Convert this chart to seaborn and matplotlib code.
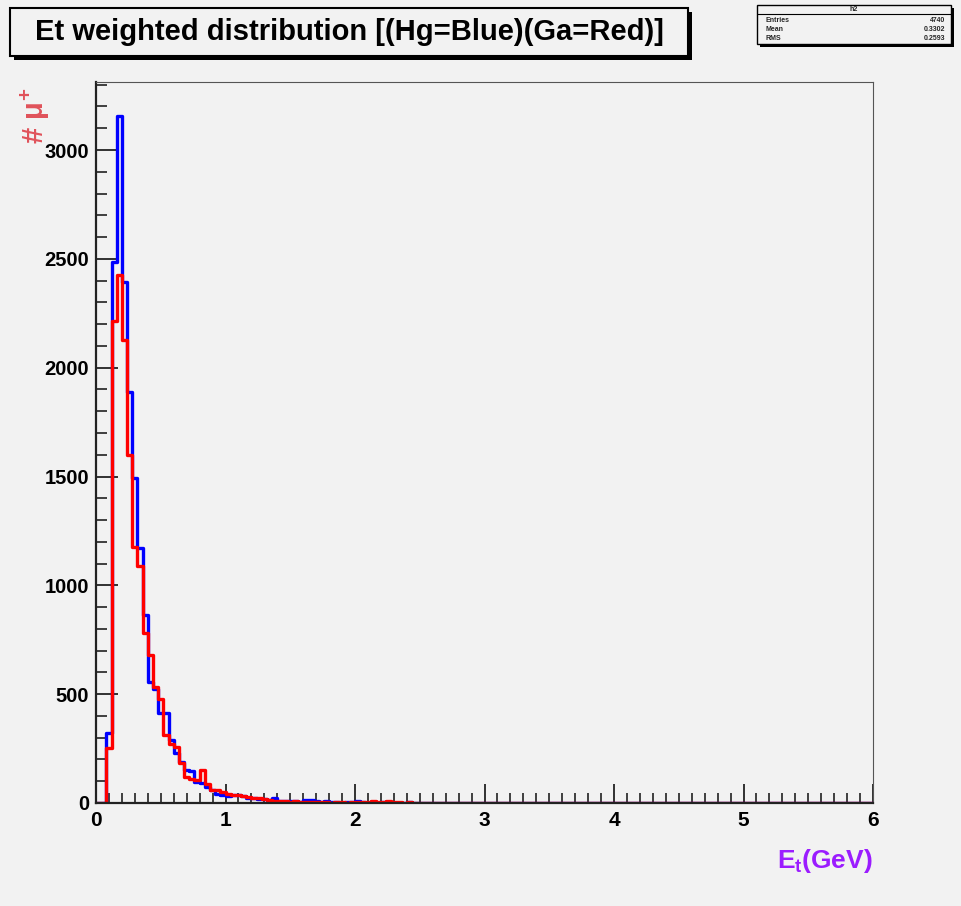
import numpy as np
import pandas as pd
import matplotlib
matplotlib.use("Agg")
import matplotlib.pyplot as plt
from matplotlib.patches import Rectangle
from matplotlib.ticker import MultipleLocator
import seaborn as sns

# ---- data (bin width 0.04 GeV, range 0-6 GeV) ----
bin_width = 0.04
hg_counts = [0, 0, 320, 2484, 3157, 2395, 1889, 1491, 1173, 864,
             557, 525, 412, 412, 289, 228, 190, 150, 145, 98,
             93, 75, 62, 40, 38, 30, 35, 35, 30, 25,
             22, 20, 18, 12, 25, 10, 8, 10, 8, 6,
             12, 15, 8, 5, 10, 6, 4, 2, 5, 3,
             8, 6, 2, 3, 2, 5, 3, 2, 1, 2,
             4, 1, 0, 2, 1, 0, 1, 0, 0, 0,
             0, 0, 0, 0, 0]
ga_counts = [0, 0, 251, 2215, 2425, 2127, 1601, 1177, 1088, 779,
             682, 531, 476, 312, 271, 259, 185, 120, 110, 105,
             152, 85, 62, 60, 50, 42, 38, 35, 30, 28,
             25, 22, 18, 14, 10, 8, 7, 6, 8, 5,
             4, 3, 5, 4, 3, 2, 4, 3, 2, 5,
             3, 6, 4, 8, 5, 3, 10, 4, 3, 2,
             3, 2, 1, 2, 1, 1, 0, 0, 0, 0,
             0, 0, 0, 0, 0]
tail_zeros = [0] * 75
x_ticks = [0, 1, 2, 3, 4, 5, 6]
y_ticks = [0, 500, 1000, 1500, 2000, 2500, 3000]
stats_rows = [("Entries", "4740"), ("Mean", "0.3302"), ("RMS", "0.2593")]

hg = np.array(hg_counts + tail_zeros, dtype=float)
ga = np.array(ga_counts + tail_zeros, dtype=float)
nb = len(hg)
edges = np.arange(nb + 1) * bin_width
centers = (edges[:-1] + edges[1:]) / 2
df = pd.DataFrame({"Et": np.concatenate([centers, centers]),
                   "w": np.concatenate([hg, ga]),
                   "target": ["Hg"] * nb + ["Ga"] * nb})

W, H = 961, 906
BG = "#f2f2f2"
sns.set_theme(style="ticks")
plt.rcParams["font.family"] = ["Liberation Sans", "DejaVu Sans"]
plt.rcParams["font.weight"] = "bold"
plt.rcParams["mathtext.fontset"] = "custom"
plt.rcParams["mathtext.it"] = "Liberation Sans:bold"
plt.rcParams["mathtext.rm"] = "Liberation Sans:bold"

fig = plt.figure(figsize=(W / 100, H / 100), dpi=100, facecolor=BG)

def fx(px):
    return px / W

def fy(py):
    return 1 - py / H

L, R, T, B = 96, 873, 82, 803
ax = fig.add_axes([fx(L), fy(B), fx(R) - fx(L), fy(T) - fy(B)])
ax.set_facecolor(BG)

sns.histplot(data=df[df.target == "Hg"], x="Et", weights="w",
             binwidth=bin_width, binrange=(0, nb * bin_width),
             element="step", fill=False, color="#0000ff", linewidth=2.4, ax=ax)
sns.histplot(data=df[df.target == "Ga"], x="Et", weights="w",
             binwidth=bin_width, binrange=(0, nb * bin_width),
             element="step", fill=False, color="#ff0000", linewidth=2.4, ax=ax)

ymax = (B - T) / ((B - 150) / 3000)
ax.set_xlim(0, 6)
ax.set_ylim(0, ymax)
ax.set_xlabel("")
ax.set_ylabel("")
ax.set_xticks(x_ticks)
ax.set_yticks(y_ticks)
ax.xaxis.set_minor_locator(MultipleLocator(0.1))
ax.yaxis.set_minor_locator(MultipleLocator(100))
ax.tick_params(axis="both", which="both", direction="in", color="#222222",
               top=False, right=False)
ax.tick_params(axis="x", which="major", length=14, width=1.3, labelsize=15, pad=6)
ax.tick_params(axis="x", which="minor", length=7, width=1.2)
ax.tick_params(axis="y", which="major", length=16, width=1.3, labelsize=14.5, pad=5)
ax.tick_params(axis="y", which="minor", length=8, width=1.2)
for lab in ax.get_xticklabels() + ax.get_yticklabels():
    lab.set_fontweight("bold")
    lab.set_color("black")
ax.spines["left"].set_linewidth(1.6)
ax.spines["bottom"].set_linewidth(1.6)
ax.spines["left"].set_color("#222222")
ax.spines["bottom"].set_color("#222222")
ax.spines["top"].set_linewidth(0.8)
ax.spines["right"].set_linewidth(0.8)
ax.spines["top"].set_color("#555555")
ax.spines["right"].set_color("#555555")

# ---- title box with shadow ----
def shadow_box(x0, y0, x1, y1, sh, lw):
    fig.patches.append(Rectangle((fx(x0 + sh), fy(y1 + sh)), fx(x1 - x0), fy(y0) - fy(y1),
                                 transform=fig.transFigure, facecolor="black",
                                 edgecolor="none", zorder=1))
    fig.patches.append(Rectangle((fx(x0), fy(y1)), fx(x1 - x0), fy(y0) - fy(y1),
                                 transform=fig.transFigure, facecolor=BG,
                                 edgecolor="black", linewidth=lw, zorder=2))

shadow_box(10, 8, 688, 56, 4, 1.5)
fig.text(fx(349), fy(32), "Et weighted distribution [(Hg=Blue)(Ga=Red)]",
         ha="center", va="center", fontsize=21, fontweight="bold", color="black",
         zorder=3)

# ---- stats box ----
shadow_box(757, 5, 951, 44, 3, 1.0)
fig.lines.append(plt.Line2D([fx(757), fx(951)], [fy(14), fy(14)],
                            transform=fig.transFigure, color="black", lw=0.8, zorder=3))
fig.text(fx(854), fy(9.5), "h2", ha="center", va="center", fontsize=5, zorder=3)
for i, (k, v) in enumerate(stats_rows):
    yy = 20.5 + i * 9
    fig.text(fx(766), fy(yy), k, ha="left", va="center", fontsize=5, zorder=3)
    fig.text(fx(945), fy(yy), v, ha="right", va="center", fontsize=5, zorder=3)

# ---- axis titles ----
fig.text(fx(35), fy(116), r"# $\mu^{+}$", rotation=90, ha="center", va="center",
         fontsize=21, color="#e0525a", fontweight="bold")
fig.text(fx(873), fy(861), r"E$_{t}$(GeV)", ha="right", va="center",
         fontsize=19, color="#9b1cff", fontweight="bold")

fig.savefig("out.png", dpi=100, facecolor=BG)
